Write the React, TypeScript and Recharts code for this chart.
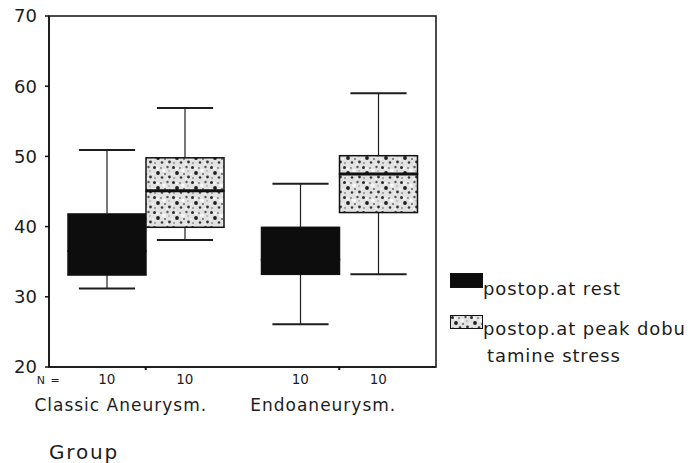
import {
  ComposedChart,
  Bar,
  XAxis,
  YAxis,
  Legend,
  ReferenceArea,
} from 'recharts';

// box plot figures (stacked bars build each box)
const groups = ['Classic Aneurysm.', 'Endoaneurysm.'];
const restN = [10, 10];
const stressN = [10, 10];

const restMin = [31.2, 26.1];
const restQ1 = [33.1, 33.2];
const restMedian = [36.5, 35.3];
const restQ3 = [41.8, 39.9];
const restMax = [50.9, 46.1];

const stressMin = [38.1, 33.2];
const stressQ1 = [39.9, 42.0];
const stressMedian = [45.1, 47.5];
const stressQ3 = [49.8, 50.1];
const stressMax = [56.9, 59.0];

const yTicks = [20, 30, 40, 50, 60, 70];
const legendRest = ['postop.at rest'];
const legendStress = ['postop.at peak dobu', 'tamine stress'];

const FONT = '"DejaVu Sans", sans-serif';
const INK = '#1d1d1d';
const BAR = 78;
const REST_FILL = '#0d0d0d';

const data = groups.map((g, i) => ({
  group: g,
  restN: restN[i],
  stressN: stressN[i],
  restBase: restMin[i],
  restLowW: restQ1[i] - restMin[i],
  restLowBox: restMedian[i] - restQ1[i],
  restHighBox: restQ3[i] - restMedian[i],
  restHighW: restMax[i] - restQ3[i],
  stressBase: stressMin[i],
  stressLowW: stressQ1[i] - stressMin[i],
  stressLowBox: stressMedian[i] - stressQ1[i],
  stressHighBox: stressQ3[i] - stressMedian[i],
  stressHighW: stressMax[i] - stressQ3[i],
}));

const WhiskerLow = (props: any) => {
  const { x, y, width, height } = props;
  const cx = x + width / 2;
  const cap = width * 0.36;
  return (
    <g stroke={INK} strokeWidth={1.2}>
      <line x1={cx} y1={y} x2={cx} y2={y + height} />
      <line x1={cx - cap} y1={y + height} x2={cx + cap} y2={y + height} strokeWidth={2} />
    </g>
  );
};

const WhiskerHigh = (props: any) => {
  const { x, y, width, height } = props;
  const cx = x + width / 2;
  const cap = width * 0.36;
  return (
    <g stroke={INK} strokeWidth={1.2}>
      <line x1={cx} y1={y} x2={cx} y2={y + height} />
      <line x1={cx - cap} y1={y} x2={cx + cap} y2={y} strokeWidth={2} />
    </g>
  );
};

const makeBox = (fill: string, median: string | null) => (props: any) => {
  const { x, y, width, height } = props;
  return (
    <g>
      <rect x={x} y={y} width={width} height={height} fill={fill} stroke="#111" strokeWidth={1.5} />
      {median && (
        <line x1={x} y1={y + height} x2={x + width} y2={y + height} stroke={median} strokeWidth={3} />
      )}
    </g>
  );
};

const GroupTick = (props: any) => {
  const { x, y, payload, index } = props;
  const row = data[index] || data[0];
  return (
    <g fontFamily={FONT} fill={INK}>
      {index === 0 && (
        <text x={x - 109} y={y + 12} fontSize={11} textAnchor="start" letterSpacing={1}>
          N =
        </text>
      )}
      <text x={x - BAR / 2} y={y + 12} fontSize={13.5} textAnchor="middle">
        {row.restN}
      </text>
      <text x={x + BAR / 2} y={y + 12} fontSize={13.5} textAnchor="middle">
        {row.stressN}
      </text>
      <text
        x={index === 0 ? x - 25 : x - 16}
        y={y + 39}
        fontSize={17}
        letterSpacing={1}
        textAnchor="middle"
      >
        {payload.value}
      </text>
    </g>
  );
};

const Swatch = ({ fill, h }: { fill: string; h: number }) => (
  <svg width={33} height={h} style={{ display: 'block', flex: 'none' }}>
    <rect x={0.5} y={0.5} width={32} height={h - 1} fill={fill} stroke="#111" strokeWidth={1} />
  </svg>
);

const LegendBox = () => (
  <div style={{ fontFamily: FONT, fontSize: 18, letterSpacing: 0.9, color: INK, lineHeight: '28px' }}>
    <div style={{ display: 'flex', alignItems: 'flex-start' }}>
      <div style={{ marginTop: 1 }}>
        <Swatch fill={REST_FILL} h={15} />
      </div>
      <div style={{ marginLeft: 0, marginTop: 3 }}>{legendRest[0]}</div>
    </div>
    <div style={{ display: 'flex', alignItems: 'flex-start', marginTop: 11 }}>
      <div style={{ marginTop: 1 }}>
        <Swatch fill="url(#stipple)" h={14} />
      </div>
      <div style={{ marginLeft: 0, marginTop: 1 }}>
        {legendStress.map((l, i) => (
          <div key={l} style={{ paddingLeft: i === 0 ? 0 : 4, marginTop: i === 0 ? 0 : -1 }}>
            {l}
          </div>
        ))}
      </div>
    </div>
  </div>
);

export default function App() {
  return (
    <div style={{ position: 'absolute', left: 0, top: 0, width: 696, height: 463, background: '#fff' }}>
      <svg width={0} height={0} style={{ position: 'absolute' }}>
        <defs>
          <pattern id="stipple" width={19} height={15} patternUnits="userSpaceOnUse">
            <rect width={19} height={15} fill="#e2e2e2" />
            <circle cx={2.5} cy={2.5} r={1.5} fill="#2a2a2a" />
            <circle cx={9} cy={3} r={0.9} fill="#777" />
            <circle cx={15.5} cy={2} r={1.2} fill="#555" />
            <circle cx={6} cy={8} r={1.9} fill="#1e1e1e" />
            <circle cx={13} cy={9} r={1.0} fill="#666" />
            <circle cx={17.5} cy={12} r={1.4} fill="#333" />
            <circle cx={3} cy={13} r={0.9} fill="#888" />
            <circle cx={10} cy={12.5} r={1.3} fill="#3a3a3a" />
            <circle cx={12} cy={5.5} r={1.8} fill="#fafafa" />
            <circle cx={5.5} cy={3.5} r={1.3} fill="#f8f8f8" />
            <circle cx={15} cy={14} r={1.1} fill="#f4f4f4" />
            <circle cx={1} cy={9} r={1.1} fill="#f2f2f2" />
            <circle cx={17} cy={6} r={0.8} fill="#999" />
          </pattern>
        </defs>
      </svg>
      <ComposedChart
        width={696}
        height={463}
        data={data}
        margin={{ top: 16, right: 260, left: 0, bottom: 0 }}
        barGap={0}
        barSize={BAR}
      >
        <ReferenceArea y1={20} y2={70} fill="none" stroke="#111" strokeWidth={1.5} ifOverflow="visible" />
        <XAxis
          dataKey="group"
          height={96}
          tick={<GroupTick />}
          tickSize={3}
          tickMargin={2}
          axisLine={{ stroke: '#111', strokeWidth: 1.5 }}
          tickLine={{ stroke: '#111', strokeWidth: 2 }}
          interval={0}
          label={{
            value: 'Group',
            position: 'insideBottomLeft',
            offset: 4,
            dx: -4,
            fontFamily: FONT,
            fontSize: 20,
            letterSpacing: 1.8,
            fill: INK,
          }}
        />
        <YAxis
          domain={[20, 70]}
          ticks={yTicks}
          allowDataOverflow
          width={49}
          tickSize={4}
          tickMargin={8}
          axisLine={{ stroke: '#111', strokeWidth: 1.5 }}
          tickLine={{ stroke: '#111', strokeWidth: 1.5 }}
          tick={{ fontFamily: FONT, fontSize: 18, fill: INK }}
        />
        <Legend
          align="center"
          verticalAlign="middle"
          content={() => <LegendBox />}
          wrapperStyle={{ position: 'absolute', left: 450, top: 272, width: 246, height: 110 }}
        />
        <Bar dataKey="restBase" stackId="rest" fill="none" isAnimationActive={false} legendType="none" />
        <Bar dataKey="restLowW" stackId="rest" shape={<WhiskerLow />} isAnimationActive={false} />
        <Bar dataKey="restLowBox" stackId="rest" shape={makeBox(REST_FILL, null)} isAnimationActive={false} />
        <Bar dataKey="restHighBox" stackId="rest" shape={makeBox(REST_FILL, REST_FILL)} isAnimationActive={false} />
        <Bar dataKey="restHighW" stackId="rest" shape={<WhiskerHigh />} isAnimationActive={false} />
        <Bar dataKey="stressBase" stackId="stress" fill="none" isAnimationActive={false} legendType="none" />
        <Bar dataKey="stressLowW" stackId="stress" shape={<WhiskerLow />} isAnimationActive={false} />
        <Bar dataKey="stressLowBox" stackId="stress" shape={makeBox('url(#stipple)', null)} isAnimationActive={false} />
        <Bar dataKey="stressHighBox" stackId="stress" shape={makeBox('url(#stipple)', '#111')} isAnimationActive={false} />
        <Bar dataKey="stressHighW" stackId="stress" shape={<WhiskerHigh />} isAnimationActive={false} />
      </ComposedChart>
    </div>
  );
}
